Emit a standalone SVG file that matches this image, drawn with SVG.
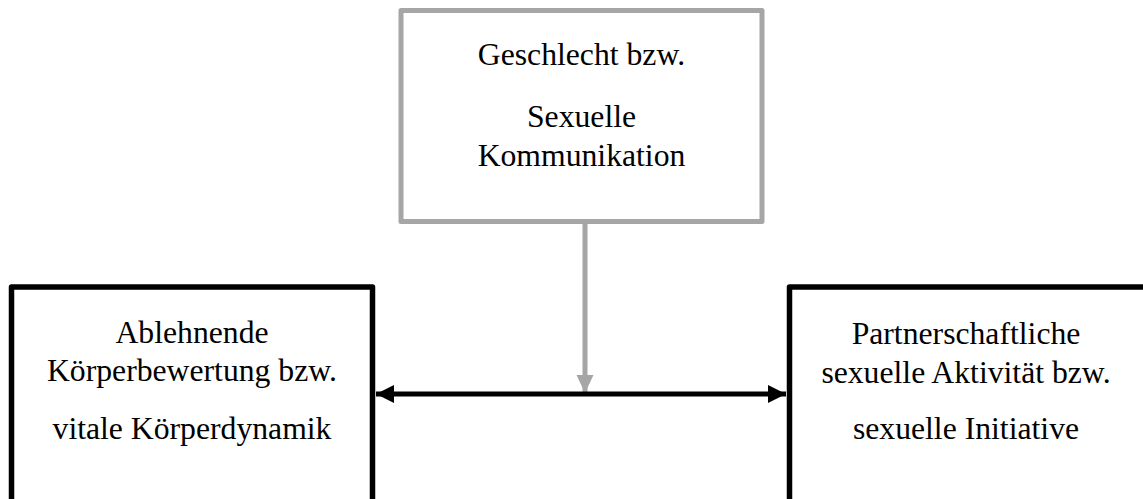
<svg xmlns="http://www.w3.org/2000/svg" width="1143" height="499" viewBox="0 0 1143 499">
<style>
.t{font-family:"Liberation Serif","Times New Roman",serif;font-size:31.7px;fill:#000;text-anchor:middle}
.gbox{fill:#fff;stroke:#A6A6A6;stroke-width:5;stroke-linejoin:round}
.bbox{fill:#fff;stroke:#000;stroke-width:5.5;stroke-linejoin:round}
</style>
<defs>
<marker id="ahB" markerUnits="userSpaceOnUse" markerWidth="18" markerHeight="18" viewBox="0 0 18 18" refX="18" refY="9" orient="auto-start-reverse">
<path d="M0,0 L18,9 L0,18 Z" fill="#000"/>
</marker>
<marker id="ahG" markerUnits="userSpaceOnUse" markerWidth="18" markerHeight="18" viewBox="0 0 18 18" refX="18" refY="9" orient="auto">
<path d="M0,0.5 L18,9 L0,17.5 Z" fill="#A6A6A6"/>
</marker>
</defs>
<rect width="1143" height="499" fill="#fff"/>
<g id="node-top">
<rect class="gbox" x="401" y="10.5" width="361" height="211"/>
<text class="t" x="581.5" y="65">Geschlecht bzw.</text>
<text class="t" x="581.5" y="126.5">Sexuelle</text>
<text class="t" x="581.5" y="165.5">Kommunikation</text>
</g>
<g id="node-left">
<rect class="bbox" x="11.5" y="287" width="361" height="240"/>
<text class="t" x="192" y="343.3">Ablehnende</text>
<text class="t" x="192" y="380.5">Körperbewertung bzw.</text>
<text class="t" x="192" y="439.3">vitale Körperdynamik</text>
</g>
<g id="node-right">
<rect class="bbox" x="789.5" y="287" width="400" height="240"/>
<text class="t" x="966" y="343.8">Partnerschaftliche</text>
<text class="t" x="966" y="382.5">sexuelle Aktivität bzw.</text>
<text class="t" x="966" y="439.3">sexuelle Initiative</text>
</g>
<g id="connectors">
<line x1="585" y1="224" x2="585" y2="393" stroke="#A6A6A6" stroke-width="5" marker-end="url(#ahG)"/>
<line x1="376" y1="394" x2="786" y2="394" stroke="#000" stroke-width="5" marker-start="url(#ahB)" marker-end="url(#ahB)"/>
</g>
</svg>
